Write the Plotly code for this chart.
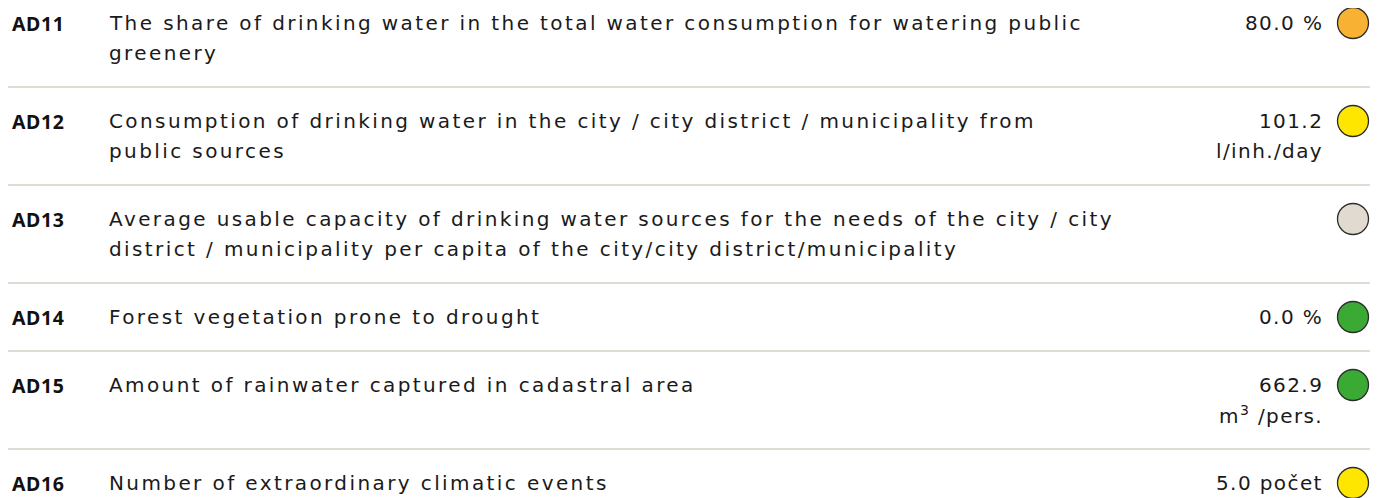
import plotly.graph_objects as go

# ---------------- data ----------------
codes = ["AD11", "AD12", "AD13", "AD14", "AD15", "AD16"]
descriptions = [
    "The share of drinking water in the total water consumption for watering public\ngreenery",
    "Consumption of drinking water in the city / city district / municipality from\npublic sources",
    "Average usable capacity of drinking water sources for the needs of the city / city\n"
    "district / municipality per capita of the city/city district/municipality",
    "Forest vegetation prone to drought",
    "Amount of rainwater captured in cadastral area",
    "Number of extraordinary climatic events",
]
values = [80.0, 101.2, None, 0.0, 662.9, 5.0]
units = ["%", "l/inh./day", "", "%", "m<sup>3</sup> /pers.", "počet"]
statuses = ["orange", "yellow", "nodata", "green", "green", "yellow"]
status_colors = {"orange": "#F8B133", "yellow": "#FFE600",
                 "nodata": "#E0DAD0", "green": "#3AAA35"}

# ---------------- layout constants ----------------
W, H = 1381, 498
OFF = 8             # default page margin around the plot div
TOP0 = -11          # top of first row (page is scrolled slightly)
FIRST = 34          # first text line centre below row top
LH = 30             # line height
CODE_X, DESC_X, VAL_X, DOT_X = 10, 107, 1325, 1353
SEP_X0, SEP_X1 = 8, 1370
FONT = "DejaVu Sans, Noto Sans, sans-serif"
CODE_FONT = "Noto Sans, DejaVu Sans, sans-serif"
FS = 20
LS = "letter-spacing:2.4px"
LS_VAL = "letter-spacing:1.4px"


def spaced(t, ls=LS):
    return f"<span style='{ls}'>{t}</span>"


def value_lines(v, u):
    if v is None:
        return []
    plain = u.replace("<sup>", "").replace("</sup>", "")
    if len(plain) > 6:
        return [f"{v:.1f}", u]
    return [f"{v:.1f} {u}"]


annotations, shapes = [], []
dot_y = []
top = TOP0
for code, desc, v, u in zip(codes, descriptions, values, units):
    dlines = desc.split("\n")
    vlines = value_lines(v, u)
    n = max(len(dlines), len(vlines), 1)
    y1 = top + FIRST
    dot_y.append(y1)
    annotations.append(dict(x=CODE_X, y=y1, text=spaced(f"<b>{code}</b>", "letter-spacing:0.6px"),
                            xanchor="left", yanchor="middle", showarrow=False,
                            font=dict(family=CODE_FONT, size=19.5, color="#111111")))
    for i, line in enumerate(dlines):
        annotations.append(dict(x=DESC_X, y=y1 + i * LH, text=spaced(line), xanchor="left",
                                yanchor="middle", showarrow=False,
                                font=dict(family=FONT, size=FS, color="#1a1a1a")))
    for i, line in enumerate(vlines):
        annotations.append(dict(x=VAL_X, y=y1 + i * LH, text=spaced(line, LS_VAL), xanchor="right",
                                yanchor="middle", showarrow=False,
                                font=dict(family=FONT, size=FS, color="#1a1a1a")))
    bottom = top + 68 + LH * (n - 1)
    shapes.append(dict(type="line", x0=SEP_X0, x1=SEP_X1, y0=bottom, y1=bottom,
                       xref="x", yref="y", line=dict(color="#D5D0C4", width=1.6),
                       layer="below"))
    top = bottom

fig = go.Figure()
fig.add_trace(go.Scatter(
    x=[DOT_X] * len(codes), y=dot_y, mode="markers",
    marker=dict(size=31, color=[status_colors[s] for s in statuses],
                line=dict(color="#2b2b2b", width=1.3)),
    hoverinfo="skip", showlegend=False))

fig.update_layout(
    width=W - OFF, height=H - OFF, margin=dict(l=0, r=0, t=0, b=0),
    paper_bgcolor="white", plot_bgcolor="white",
    xaxis=dict(range=[OFF, W], visible=False, fixedrange=True),
    yaxis=dict(range=[H, OFF], visible=False, fixedrange=True),
    annotations=annotations, shapes=shapes, showlegend=False,
)
fig.write_html("out.html")
